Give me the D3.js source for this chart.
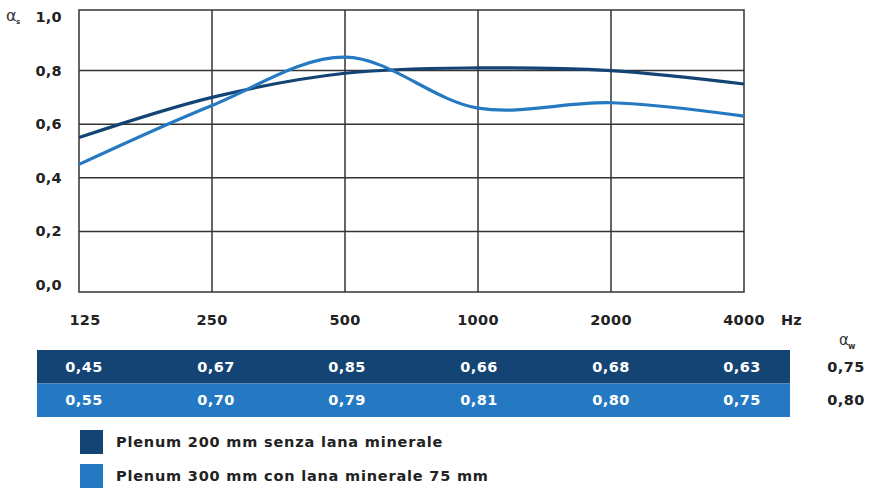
<!DOCTYPE html>
<html>
<head>
<meta charset="utf-8">
<script src="https://cdn.jsdelivr.net/npm/d3@7"></script>
<style>
  body { margin: 0; background: #fff; }
  svg { font-family: "DejaVu Sans", sans-serif; font-weight: 700; }
</style>
</head>
<body>
<div id="chart"></div>
<script>
// --- Data ---
const frequencies = [125, 250, 500, 1000, 2000, 4000];
const yTicks = [0, 0.2, 0.4, 0.6, 0.8, 1.0];
const seriesNames = ["Plenum 200 mm senza lana minerale", "Plenum 300 mm con lana minerale 75 mm"];
// table rows as printed
const tableDark = [0.45, 0.67, 0.85, 0.66, 0.68, 0.63];
const tableLight = [0.55, 0.70, 0.79, 0.81, 0.80, 0.75];
const alphaW = [0.75, 0.80];
// curves as drawn
const curveDark = [0.55, 0.70, 0.79, 0.81, 0.80, 0.75];
const curveLight = [0.45, 0.67, 0.85, 0.66, 0.68, 0.63];

const darkBlue = "#134474";
const lightBlue = "#2479c2";
const fmt = v => d3.format(".2f")(v).replace(".", ",");

const svg = d3.select("#chart").append("svg")
    .attr("width", 869).attr("height", 489);

const x = d3.scaleLog().base(2).domain([125, 4000]).range([79, 744]);
const y = d3.scaleLinear().domain([0, 1]).range([285, 17]);
const frameTop = 10, frameBottom = 292;

// grid
const grid = svg.append("g").attr("stroke", "#333").attr("stroke-width", 1.5);
grid.selectAll(".h").data(yTicks.slice(1, -1)).enter().append("line")
    .attr("x1", x(125)).attr("x2", x(4000))
    .attr("y1", d => y(d)).attr("y2", d => y(d));
grid.selectAll(".v").data(frequencies.slice(1, -1)).enter().append("line")
    .attr("x1", d => x(d)).attr("x2", d => x(d))
    .attr("y1", frameTop).attr("y2", frameBottom);
grid.append("rect")
    .attr("x", x(125)).attr("y", frameTop)
    .attr("width", x(4000) - x(125)).attr("height", frameBottom - frameTop)
    .attr("fill", "none");

// y labels
svg.selectAll(".ylab").data(yTicks).enter().append("text")
    .attr("x", 62).attr("y", d => y(d) + 5)
    .attr("text-anchor", "end").attr("font-size", 14.5).attr("letter-spacing", 0.3).attr("fill", "#222")
    .text(d => d3.format(".1f")(d).replace(".", ","));
svg.append("text").attr("x", 6).attr("y", 21).attr("font-size", 16).attr("fill", "#333")
    .attr("font-weight", 400).text("α");
svg.append("text").attr("x", 16).attr("y", 24).attr("font-size", 7).attr("fill", "#333").text("s");

// x labels
svg.selectAll(".xlab").data(frequencies).enter().append("text")
    .attr("x", (d, i) => x(d) + (i === 0 ? 6 : 0)).attr("y", 325)
    .attr("text-anchor", "middle").attr("font-size", 14.5).attr("letter-spacing", 0.3).attr("fill", "#222")
    .text(d => d);
svg.append("text").attr("x", 781).attr("y", 325).attr("font-size", 14.5).attr("fill", "#222").text("Hz");

// curves
const line = d3.line()
    .x((d, i) => x(frequencies[i]))
    .y(d => y(d))
    .curve(d3.curveCatmullRom.alpha(0.5));
svg.append("path").datum(curveDark).attr("d", line)
    .attr("fill", "none").attr("stroke", darkBlue).attr("stroke-width", 3.2);
svg.append("path").datum(curveLight).attr("d", line)
    .attr("fill", "none").attr("stroke", lightBlue).attr("stroke-width", 3.2);

// table
const tLeft = 37, tRight = 790, rowH = 33.5, tTop = 350;
const rows = [
    { vals: tableDark, color: darkBlue, aw: alphaW[0] },
    { vals: tableLight, color: lightBlue, aw: alphaW[1] }
];
const colX = [84, 216, 347, 479, 611, 742];
rows.forEach((r, ri) => {
    const ry = tTop + ri * rowH;
    svg.append("rect").attr("x", tLeft).attr("y", ry)
        .attr("width", tRight - tLeft).attr("height", rowH).attr("fill", r.color);
    svg.selectAll(null).data(r.vals).enter().append("text")
        .attr("x", (d, i) => colX[i]).attr("y", ry + rowH / 2 + 5)
        .attr("text-anchor", "middle").attr("font-size", 14.5).attr("letter-spacing", 0.4).attr("fill", "#fff")
        .text(fmt);
    svg.append("text").attr("x", 846).attr("y", ry + rowH / 2 + 5)
        .attr("text-anchor", "middle").attr("font-size", 14.5).attr("letter-spacing", 0.4).attr("fill", "#222")
        .text(fmt(r.aw));
});
svg.append("text").attr("x", 839).attr("y", 345).attr("font-size", 15).attr("fill", "#333")
    .attr("font-weight", 400).text("α");
svg.append("text").attr("x", 848).attr("y", 349).attr("font-size", 8).attr("fill", "#333").text("w");

// legend
seriesNames.forEach((name, i) => {
    const ly = 430 + i * 34;
    svg.append("rect").attr("x", 80).attr("y", ly).attr("width", 23).attr("height", 24)
        .attr("fill", i === 0 ? darkBlue : lightBlue);
    svg.append("text").attr("x", 116).attr("y", ly + 17).attr("font-size", 14.5).attr("letter-spacing", 0.8)
        .attr("fill", "#222")
        .text(name);
});
</script>
</body>
</html>
